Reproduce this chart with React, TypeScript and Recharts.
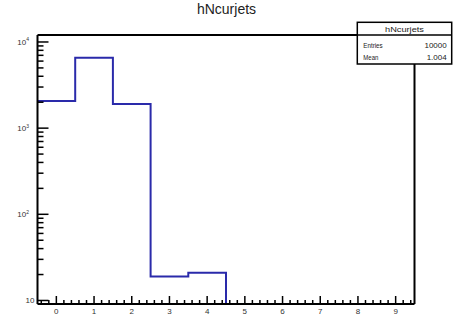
import React from "react";
import { ComposedChart, Line, XAxis, YAxis, ReferenceLine } from "recharts";

// ---- data ----
const binCenters = [0, 1, 2, 3, 4, 5, 6, 7, 8, 9];
const binContents = [2070, 6580, 1910, 19, 21, 0, 0, 0, 0, 0];
const xTickLabels = ["0", "1", "2", "3", "4", "5", "6", "7", "8", "9"];
const yDecades = [10, 100, 1000, 10000];
const yDecadeExponents = ["1", "2", "3", "4"];
const yMinorMultipliers = [2, 3, 4, 5, 6, 7, 8, 9];
const histTitle = "hNcurjets";
const statsLabels = ["Entries", "Mean"];
const statsValues = ["10000", "1.004"];

const xDomain: [number, number] = [-0.5, 9.5];
const yDomain: [number, number] = [9.1, 12050];
const LINE_COLOR = "#2a2aaa";
const FONT = "'Liberation Sans', Arial, Helvetica, sans-serif";

const CHART_W = 458;
const CHART_H = 319;
const MARGIN = { top: 35, right: 43.5, left: 0, bottom: 0 };
const X_AXIS_H = 15;
const PLOT_H = CHART_H - MARGIN.top - MARGIN.bottom - X_AXIS_H;
const PX_PER_DECADE = PLOT_H / Math.log10(yDomain[1] / yDomain[0]);

// histogram outline as step points (left bin edges)
const lastFilled = binContents.reduce((acc, c, i) => (c > 0 ? i : acc), 0);
const histPoints = binCenters
  .slice(0, lastFilled + 1)
  .map((c, i) => ({ x: c - 0.5, y: binContents[i] }));
histPoints.push({ x: binCenters[lastFilled] + 0.5, y: yDomain[0] });

// x tick positions (0.2 steps)
const xTicks: number[] = [];
for (let k = -2; k <= 47; k++) xTicks.push(Math.round(k * 20) / 100);

const XTick = (props: any) => {
  const { x, y, payload } = props;
  const v = payload.value as number;
  const idx = binCenters.indexOf(v);
  const major = idx >= 0;
  return (
    <g>
      <line x1={x} x2={x} y1={y} y2={y - (major ? 8 : 4)} stroke="#000" strokeWidth={1.5} />
      {major && (
        <text x={x} y={y + 9.5} textAnchor="middle" fontSize={8} fill="#333" fontFamily={FONT}>
          {xTickLabels[idx]}
        </text>
      )}
    </g>
  );
};

const YTick = (props: any) => {
  const { x, y, payload } = props;
  const v = payload.value as number;
  const idx = yDecades.indexOf(v);
  if (idx < 0) return <g />;
  const minors = yMinorMultipliers.filter((m) => v * m <= yDomain[1]);
  return (
    <g>
      <line x1={x} x2={x + 11} y1={y} y2={y} stroke="#000" strokeWidth={1.5} />
      {minors.map((m) => {
        const yy = y - Math.log10(m) * PX_PER_DECADE;
        return <line key={m} x1={x} x2={x + 6} y1={yy} y2={yy} stroke="#000" strokeWidth={1.5} />;
      })}
      {idx === 0 ? (
        <text x={x - 3} y={y + 3} textAnchor="end" fontSize={8} fill="#333" fontFamily={FONT}>
          10
        </text>
      ) : (
        <text x={x - 8.5} y={y + 3} textAnchor="end" fontSize={8} fill="#333" fontFamily={FONT}>
          10
          <tspan fontSize={5} dy={-3.5}>
            {yDecadeExponents[idx]}
          </tspan>
        </text>
      )}
    </g>
  );
};

export default function App() {
  return (
    <div style={{ position: "absolute", left: 0, top: 0, width: CHART_W, height: CHART_H, background: "#fff" }}>
      <ComposedChart width={CHART_W} height={CHART_H} data={histPoints} margin={MARGIN}>
        <XAxis
          dataKey="x"
          type="number"
          domain={xDomain}
          ticks={xTicks}
          interval={0}
          tickSize={0}
          tickMargin={0}
          tickLine={false}
          tick={<XTick />}
          axisLine={{ stroke: "#000", strokeWidth: 2 }}
          height={X_AXIS_H}
          allowDataOverflow
        />
        <YAxis
          dataKey="y"
          type="number"
          scale="log"
          domain={yDomain}
          ticks={yDecades}
          interval={0}
          tickSize={0}
          tickMargin={0}
          tickLine={false}
          tick={<YTick />}
          axisLine={{ stroke: "#000", strokeWidth: 2 }}
          width={37.5}
          allowDataOverflow
        />
        <ReferenceLine y={yDomain[1]} stroke="#000" strokeWidth={2} ifOverflow="visible" />
        <ReferenceLine x={xDomain[1]} stroke="#000" strokeWidth={2} ifOverflow="visible" />
        <Line
          dataKey="y"
          type="stepAfter"
          stroke={LINE_COLOR}
          strokeWidth={2}
          dot={false}
          activeDot={false}
          isAnimationActive={false}
        />
      </ComposedChart>
      <svg
        width={CHART_W}
        height={CHART_H}
        style={{ position: "absolute", left: 0, top: 0, pointerEvents: "none" }}
      >
        <text x={226.5} y={13.5} textAnchor="middle" fontSize={14} fill="#222" fontFamily={FONT}>
          {histTitle}
        </text>
        <rect x={357.3} y={22.3} width={94.4} height={41.7} fill="#fff" stroke="#000" strokeWidth={1.5} />
        <line x1={357.3} x2={451.7} y1={35} y2={35} stroke="#000" strokeWidth={1.5} />
        <text x={404.5} y={32} textAnchor="middle" fontSize={7} fill="#222" fontFamily={FONT}
          textLength={39} lengthAdjust="spacingAndGlyphs">
          {histTitle}
        </text>
        <text x={363.3} y={48.3} fontSize={8} fill="#222" fontFamily={FONT}
          textLength={19.4} lengthAdjust="spacingAndGlyphs">
          {statsLabels[0]}
        </text>
        <text x={446.7} y={48.3} textAnchor="end" fontSize={8} fill="#222" fontFamily={FONT}>
          {statsValues[0]}
        </text>
        <text x={363.3} y={60} fontSize={8} fill="#222" fontFamily={FONT}
          textLength={15} lengthAdjust="spacingAndGlyphs">
          {statsLabels[1]}
        </text>
        <text x={446.7} y={60} textAnchor="end" fontSize={8} fill="#222" fontFamily={FONT}>
          {statsValues[1]}
        </text>
      </svg>
    </div>
  );
}
